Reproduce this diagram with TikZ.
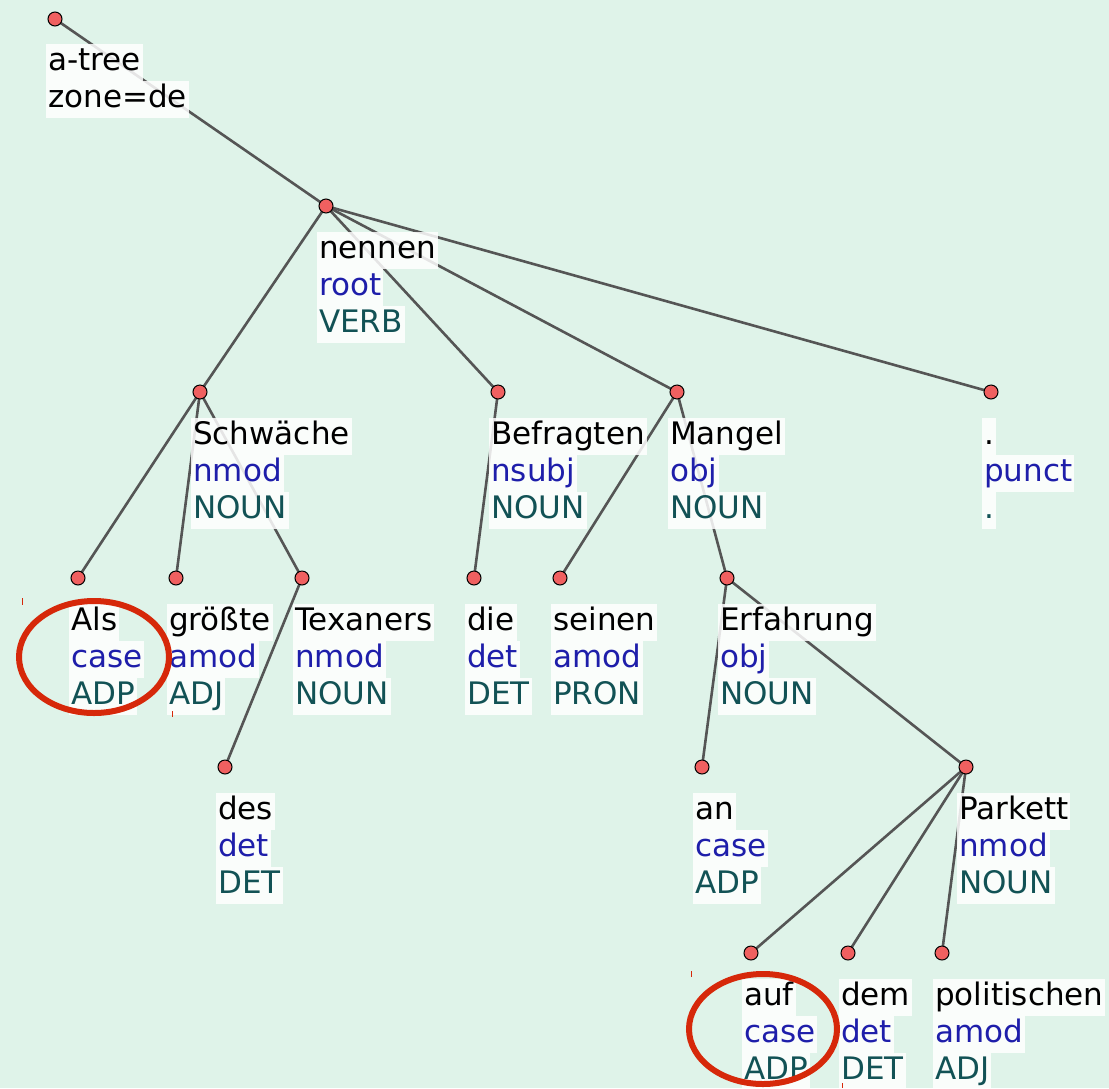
\documentclass[tikz,border=0pt]{standalone}
\usepackage{fontspec}
\setmainfont{DejaVu Sans}
\definecolor{bgc}{RGB}{223,243,233}
\definecolor{edgec}{RGB}{85,85,85}
\definecolor{relc}{RGB}{30,30,170}
\definecolor{posc}{RGB}{18,82,85}
\definecolor{dotc}{RGB}{240,96,96}
\definecolor{markc}{RGB}{214,40,10}
\tikzset{
  dotn/.style={circle,draw=black,fill=dotc,line width=1pt,minimum size=14pt,inner sep=0pt},
  lbl/.style={anchor=west,fill=white,fill opacity=0.85,text opacity=1,inner xsep=2pt,inner ysep=0pt,
    minimum height=37pt,text height=23pt,text depth=7pt,font=\fontsize{31}{37}\selectfont},
  edge/.style={draw=edgec,line width=2.6pt},
  hl/.style={draw=markc,line width=6pt},
  tick/.style={draw=markc,line width=1pt}
}
\newcommand\tok[6]{%
  \node[dotn] (#1) at (#2,#3) {};
  \node[lbl,text=black] (#1-1) at (#2-9,#3+44) {#4};
  \node[lbl,text=relc] (#1-2) at (#2-9,#3+81) {#5};
  \node[lbl,text=posc] (#1-3) at (#2-9,#3+118) {#6};
}
\begin{document}
\begin{tikzpicture}[x=1pt,y=-1pt]
\fill[bgc] (0,0) rectangle (1109,1088);
\useasboundingbox (0,0) rectangle (1109,1088);
% dot coordinates
\coordinate (c-root) at (55,19);
\coordinate (c-nennen) at (326,206);
\coordinate (c-schw) at (200,392);
\coordinate (c-befr) at (498,392);
\coordinate (c-mang) at (677,392);
\coordinate (c-punct) at (991,392);
\coordinate (c-als) at (78,578);
\coordinate (c-gro) at (176,578);
\coordinate (c-tex) at (302,578);
\coordinate (c-die) at (474,578);
\coordinate (c-sein) at (560,578);
\coordinate (c-erf) at (727,578);
\coordinate (c-des) at (225,767);
\coordinate (c-an) at (702,767);
\coordinate (c-park) at (966,767);
\coordinate (c-auf) at (751,953);
\coordinate (c-dem) at (848,953);
\coordinate (c-pol) at (942,953);
% edges
\foreach \a/\b in {root/nennen,nennen/schw,nennen/befr,nennen/mang,nennen/punct,
  schw/als,schw/gro,schw/tex,tex/des,befr/die,mang/sein,mang/erf,erf/an,erf/park,
  park/auf,park/dem,park/pol}
  \draw[edge] (c-\a) -- (c-\b);
% root label
\node[dotn] (root) at (c-root) {};
\node[lbl,text=black] (root-1) at (46,62) {a-tree};
\node[lbl,text=black] (root-2) at (46,99) {zone=de};
% tokens
\tok{nennen}{326}{206}{nennen}{root}{VERB}
\tok{schw}{200}{392}{Schwäche}{nmod}{NOUN}
\tok{befr}{498}{392}{Befragten}{nsubj}{NOUN}
\tok{mang}{677}{392}{Mangel}{obj}{NOUN}
\tok{punct}{991}{392}{.}{punct}{.}
\tok{als}{78}{578}{Als}{case}{ADP}
\tok{gro}{176}{578}{größte}{amod}{ADJ}
\tok{tex}{302}{578}{Texaners}{nmod}{NOUN}
\tok{die}{474}{578}{die}{det}{DET}
\tok{sein}{560}{578}{seinen}{amod}{PRON}
\tok{erf}{727}{578}{Erfahrung}{obj}{NOUN}
\tok{des}{225}{767}{des}{det}{DET}
\tok{an}{702}{767}{an}{case}{ADP}
\tok{park}{966}{767}{Parkett}{nmod}{NOUN}
\tok{auf}{751}{953}{auf}{case}{ADP}
\tok{dem}{848}{953}{dem}{det}{DET}
\tok{pol}{942}{953}{politischen}{amod}{ADJ}
% highlight ellipses
\draw[hl] (94,657) ellipse [x radius=75, y radius=56];
\draw[hl] (763,1029) ellipse [x radius=74, y radius=55];
% small red ticks
\draw[tick] (22,598) -- (22,605);
\draw[tick] (172,711) -- (172,717);
\draw[tick] (691,971) -- (691,977);
\draw[tick] (842,1083) -- (842,1088);
\end{tikzpicture}
\end{document}
